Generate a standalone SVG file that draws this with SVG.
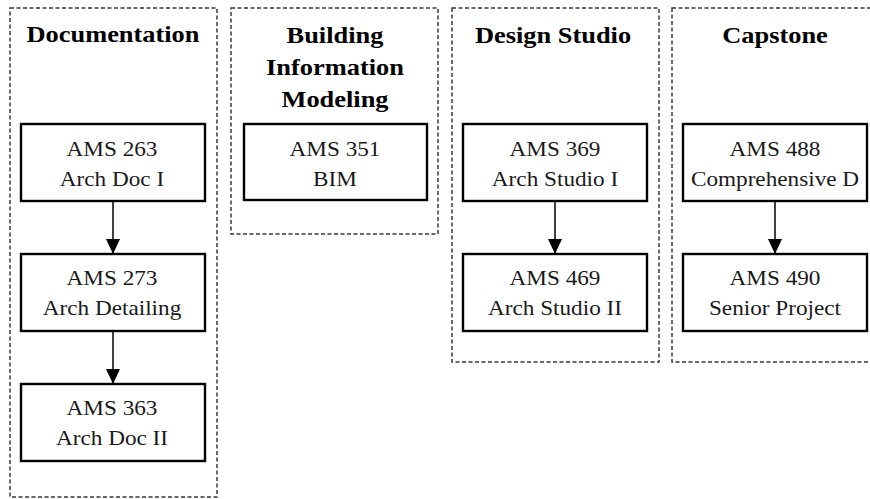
<svg xmlns="http://www.w3.org/2000/svg" width="870" height="499" viewBox="0 0 870 499">
<defs>
<style>
.grp{fill:none;stroke:#3a3a3a;stroke-width:1.5;stroke-dasharray:4 2.5}
.box{fill:#fff;stroke:#000;stroke-width:2.4}
.t{font-family:"Liberation Serif","Times New Roman",serif;font-size:21.5px;fill:#1a1a1a;text-anchor:middle}
.h{font-family:"Liberation Serif","Times New Roman",serif;font-size:24px;font-weight:bold;fill:#000;text-anchor:middle}
.c{stroke:#000;stroke-width:1.5;fill:none}
</style>
<marker id="ah" viewBox="0 0 10 10" refX="10" refY="5" markerWidth="15" markerHeight="14" markerUnits="userSpaceOnUse" orient="auto" preserveAspectRatio="none">
<path d="M0,0 L10,5 L0,10 Z" fill="#000"/>
</marker>
</defs>
<rect width="870" height="499" fill="#fff"/>
<g id="group-documentation">
<rect class="grp" x="10" y="8" width="207" height="489"/>
<text class="h" transform="matrix(1.1 0 0 1 113 42)">Documentation</text>
</g>
<g id="group-bim">
<rect class="grp" x="231" y="8" width="207" height="226"/>
<text class="h" transform="matrix(1.1 0 0 1 335 43)">Building</text>
<text class="h" transform="matrix(1.1 0 0 1 335 75)">Information</text>
<text class="h" transform="matrix(1.1 0 0 1 335 107)">Modeling</text>
</g>
<g id="group-design-studio">
<rect class="grp" x="452" y="8" width="207" height="354"/>
<text class="h" transform="matrix(1.1 0 0 1 553 43)">Design Studio</text>
</g>
<g id="group-capstone">
<rect class="grp" x="672" y="8" width="220" height="354"/>
<text class="h" transform="matrix(1.1 0 0 1 775 43)">Capstone</text>
</g>
<g id="connectors">
<line class="c" x1="113" y1="201" x2="113" y2="254" marker-end="url(#ah)"/>
<line class="c" x1="113" y1="331" x2="113" y2="384" marker-end="url(#ah)"/>
<line class="c" x1="555" y1="201" x2="555" y2="254" marker-end="url(#ah)"/>
<line class="c" x1="775" y1="201" x2="775" y2="254" marker-end="url(#ah)"/>
</g>
<g id="ams263">
<rect class="box" x="21" y="124" width="184" height="77"/>
<text class="t" transform="matrix(1.08 0 0 1 112 156)">AMS 263</text>
<text class="t" transform="matrix(1.08 0 0 1 112 186)">Arch Doc I</text>
</g>
<g id="ams273">
<rect class="box" x="21" y="254" width="184" height="77"/>
<text class="t" transform="matrix(1.08 0 0 1 112 285)">AMS 273</text>
<text class="t" transform="matrix(1.08 0 0 1 112 315)">Arch Detailing</text>
</g>
<g id="ams363">
<rect class="box" x="21" y="384" width="184" height="77"/>
<text class="t" transform="matrix(1.08 0 0 1 112 415)">AMS 363</text>
<text class="t" transform="matrix(1.08 0 0 1 112 445)">Arch Doc II</text>
</g>
<g id="ams351">
<rect class="box" x="244" y="124" width="183" height="76"/>
<text class="t" transform="matrix(1.08 0 0 1 335 156)">AMS 351</text>
<text class="t" transform="matrix(1.08 0 0 1 335 186)">BIM</text>
</g>
<g id="ams369">
<rect class="box" x="463" y="124" width="184" height="77"/>
<text class="t" transform="matrix(1.08 0 0 1 555 156)">AMS 369</text>
<text class="t" transform="matrix(1.08 0 0 1 555 186)">Arch Studio I</text>
</g>
<g id="ams469">
<rect class="box" x="463" y="254" width="184" height="77"/>
<text class="t" transform="matrix(1.08 0 0 1 555 285)">AMS 469</text>
<text class="t" transform="matrix(1.08 0 0 1 555 315)">Arch Studio II</text>
</g>
<g id="ams488">
<rect class="box" x="683" y="124" width="184" height="77"/>
<text class="t" transform="matrix(1.08 0 0 1 775 156)">AMS 488</text>
<text class="t" transform="matrix(1.08 0 0 1 775 186)">Comprehensive D</text>
</g>
<g id="ams490">
<rect class="box" x="683" y="254" width="184" height="77"/>
<text class="t" transform="matrix(1.08 0 0 1 775 285)">AMS 490</text>
<text class="t" transform="matrix(1.08 0 0 1 775 315)">Senior Project</text>
</g>
</svg>
